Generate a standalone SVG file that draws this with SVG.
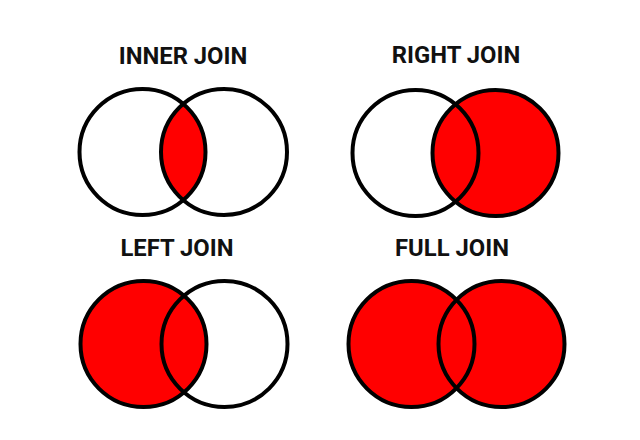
<svg xmlns="http://www.w3.org/2000/svg" width="640" height="440" viewBox="0 0 640 440">
<style>
.t{font-family:Roboto,"Liberation Sans",sans-serif;font-weight:bold;font-size:23.8px;fill:#111;text-anchor:middle}
.o{fill:none;stroke:#000;stroke-width:4}
.r{fill:#ff0000;stroke:none}
</style>
<defs>
<clipPath id="cInner"><circle cx="224" cy="152" r="63"/></clipPath>
</defs>
<rect width="640" height="440" fill="#fff"/>
<g id="inner-join">
<text class="t" x="183" y="64">INNER JOIN</text>
<circle class="r" cx="142.5" cy="152" r="63" clip-path="url(#cInner)"/>
<circle class="o" cx="142.5" cy="152" r="63"/>
<circle class="o" cx="224" cy="152" r="63"/>
</g>
<g id="right-join">
<text class="t" x="456" y="63">RIGHT JOIN</text>
<circle class="r" cx="495.5" cy="153" r="63"/>
<circle class="o" cx="415.5" cy="153" r="63"/>
<circle class="o" cx="495.5" cy="153" r="63"/>
</g>
<g id="left-join">
<text class="t" x="177" y="256">LEFT JOIN</text>
<circle class="r" cx="143.5" cy="344" r="63"/>
<circle class="o" cx="143.5" cy="344" r="63"/>
<circle class="o" cx="224.5" cy="344" r="63"/>
</g>
<g id="full-join">
<text class="t" x="452" y="256">FULL JOIN</text>
<circle class="r" cx="411.5" cy="344" r="63"/>
<circle class="r" cx="501.5" cy="344" r="63"/>
<circle class="o" cx="411.5" cy="344" r="63"/>
<circle class="o" cx="501.5" cy="344" r="63"/>
</g>
</svg>
